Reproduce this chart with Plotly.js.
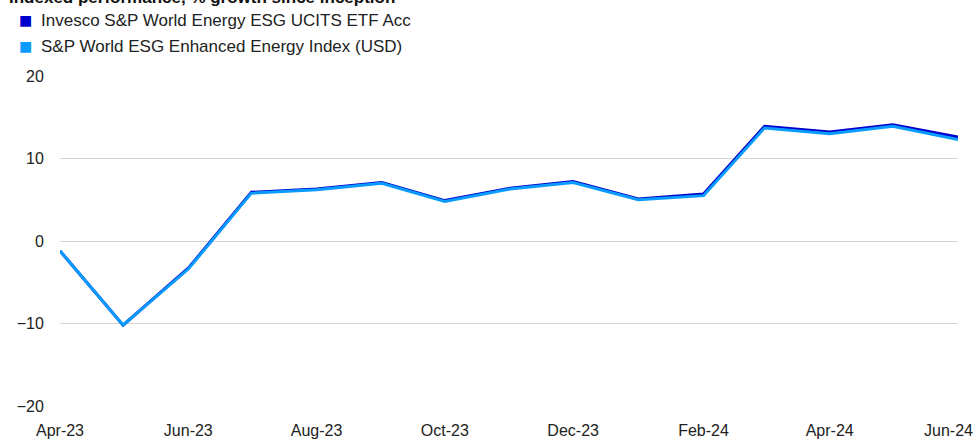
<!DOCTYPE html>
<html>
<head>
<meta charset="utf-8">
<script src="https://cdn.plot.ly/plotly-3.0.1.min.js"></script>
<style>
  html, body { margin: 0; padding: 0; background: #fff; }
  #chart { width: 976px; height: 439px; }
</style>
</head>
<body>
<div id="chart"></div>
<script>
// Data
const months = ['2023-04-01','2023-05-01','2023-06-01','2023-07-01','2023-08-01','2023-09-01','2023-10-01',
                '2023-11-01','2023-12-01','2024-01-01','2024-02-01','2024-03-01','2024-04-01','2024-05-01','2024-06-01'];
const etfName = 'Invesco S&P World Energy ESG UCITS ETF Acc';
const indexName = 'S&P World ESG Enhanced Energy Index (USD)';
const etfValues   = [-1.2, -10.2, -3.3, 5.9, 6.3, 7.1, 4.9, 6.4, 7.2, 5.1, 5.7, 13.9, 13.2, 14.1, 12.6];
const indexValues = [-1.2, -10.2, -3.4, 5.8, 6.2, 7.0, 4.8, 6.3, 7.1, 5.0, 5.5, 13.7, 13.0, 13.9, 12.3];
const tickDates  = ['2023-04-01','2023-06-01','2023-08-01','2023-10-01','2023-12-01','2024-02-01','2024-04-01','2024-06-01'];
const tickLabels = ['Apr-23','Jun-23','Aug-23','Oct-23','Dec-23','Feb-24','Apr-24','Jun-24'];
const titleText = 'Indexed performance, % growth since inception';

const etfColor = '#0000CC';
const indexColor = '#0A9BFF';
const font = 'Arial, "Liberation Sans", sans-serif';

const traces = [
  { x: months, y: etfValues, type: 'scatter', mode: 'lines', name: etfName,
    line: { color: etfColor, width: 3 } },
  { x: months, y: indexValues, type: 'scatter', mode: 'lines', name: indexName,
    line: { color: indexColor, width: 3 } }
];

// Plot area: left 60px, width 898px; top 76px, height 330px
const L = 60, W = 898, T = 76, H = 330;
const px = v => (v - L) / W;
const py = v => 1 + (T - v) / H;

const legendItems = [
  { name: etfName, color: etfColor, yc: 20 },
  { name: indexName, color: indexColor, yc: 46 }
];

const annotations = [
  { text: '<b>' + titleText + '</b>', xref: 'paper', yref: 'paper',
    x: px(7), xanchor: 'left', y: py(-3), yanchor: 'middle', showarrow: false,
    font: { family: font, size: 17, color: '#111' } }
];
legendItems.forEach(it => {
  annotations.push({ text: '■', xref: 'paper', yref: 'paper', x: px(25), xanchor: 'center',
    y: py(it.yc), yanchor: 'middle', showarrow: false,
    font: { family: '"DejaVu Sans", sans-serif', size: 14, color: it.color } });
  annotations.push({ text: it.name, xref: 'paper', yref: 'paper', x: px(39), xanchor: 'left',
    y: py(it.yc), yanchor: 'middle', showarrow: false,
    font: { family: font, size: 17, color: '#222' } });
});
// last x tick label kept inside the picture's right edge
const lastIdx = tickLabels.length - 1;
annotations.push({ text: tickLabels[lastIdx], xref: 'paper', yref: 'paper',
  x: px(975), xanchor: 'right', y: py(430), yanchor: 'middle', showarrow: false,
  font: { family: font, size: 16, color: '#222' } });
const shownTickText = tickLabels.map((t, i) => i === lastIdx ? '' : t);

const layout = {
  width: 976, height: 439,
  margin: { l: L, r: 976 - L - W, t: T, b: 439 - T - H, autoexpand: false },
  paper_bgcolor: '#fff', plot_bgcolor: '#fff',
  font: { family: font, size: 16, color: '#222' },
  showlegend: false,
  xaxis: {
    type: 'date', automargin: false,
    range: ['2023-04-01', '2024-06-01'],
    tickmode: 'array', tickvals: tickDates, ticktext: shownTickText,
    showgrid: false, zeroline: false, showline: false,
    ticks: 'outside', ticklen: 10, tickcolor: 'rgba(0,0,0,0)',
    ticklabeloverflow: 'allow',
    tickfont: { family: font, size: 16, color: '#222' }
  },
  yaxis: {
    range: [-20, 20], dtick: 10, tick0: 0, automargin: false,
    showgrid: true, gridcolor: '#d4d4d4', gridwidth: 1,
    zeroline: false, showline: false,
    ticks: 'outside', ticklen: 12, tickcolor: 'rgba(0,0,0,0)',
    tickfont: { family: font, size: 16, color: '#222' }
  },
  annotations: annotations
};

Plotly.newPlot('chart', traces, layout, { displayModeBar: false, staticPlot: true });
</script>
</body>
</html>
